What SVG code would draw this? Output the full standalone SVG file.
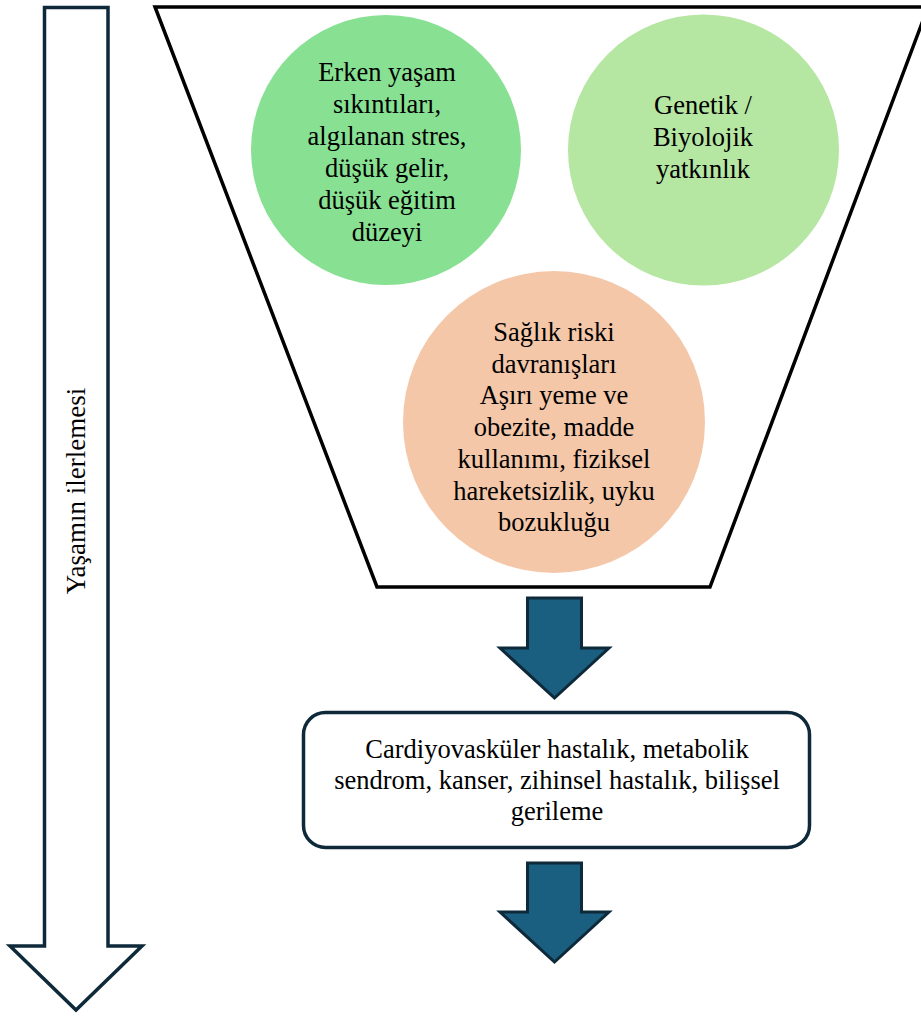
<svg xmlns="http://www.w3.org/2000/svg" width="921" height="1016" viewBox="0 0 921 1016">
<style>
.t{font-family:'Liberation Serif','Times New Roman',serif;font-size:26.5px;fill:#000;text-anchor:middle}
.blue{fill:#1A5E80;stroke:#0E2A3A;stroke-width:3;stroke-linejoin:miter}
</style>
<rect width="921" height="1016" fill="#fff"/>
<g id="progress-arrow">
<polygon points="44.5,7.5 108,7.5 108,946 142,946 76,1010 10,946 44.5,946" fill="#fff" stroke="#0E2A3A" stroke-width="3.5"/>
<text class="t" style="font-size:27px" transform="translate(85,491) rotate(-90)">Yaşamın ilerlemesi</text>
</g>
<g id="funnel">
<polygon points="155,7 928,7 710,587 377,587" fill="#fff" stroke="#000" stroke-width="3.5"/>
</g>
<g id="early-life">
<circle cx="386" cy="150" r="135" fill="#88E093"/>
<text class="t" x="387" y="81">Erken yaşam</text>
<text class="t" x="387" y="113">sıkıntıları,</text>
<text class="t" x="387" y="145">algılanan stres,</text>
<text class="t" x="387" y="177">düşük gelir,</text>
<text class="t" x="387" y="209">düşük eğitim</text>
<text class="t" x="387" y="241">düzeyi</text>
</g>
<g id="genetic">
<circle cx="703.5" cy="150" r="135.5" fill="#B5E6A2"/>
<text class="t" x="703" y="114">Genetik /</text>
<text class="t" x="703" y="146">Biyolojik</text>
<text class="t" x="703" y="178">yatkınlık</text>
</g>
<g id="behaviors">
<circle cx="554" cy="422" r="151" fill="#F5C7A9"/>
<text class="t" x="554" y="341">Sağlık riski</text>
<text class="t" x="554" y="373">davranışları</text>
<text class="t" x="554" y="404">Aşırı yeme ve</text>
<text class="t" x="554" y="436">obezite, madde</text>
<text class="t" x="554" y="468">kullanımı, fiziksel</text>
<text class="t" x="554" y="500">hareketsizlik, uyku</text>
<text class="t" x="554" y="531">bozukluğu</text>
</g>
<g id="outcomes">
<rect x="303.5" y="712.5" width="506" height="135" rx="22" fill="#fff" stroke="#0E2A3A" stroke-width="3.5"/>
<text class="t" x="557" y="758">Cardiyovasküler hastalık, metabolik</text>
<text class="t" x="557" y="789">sendrom, kanser, zihinsel hastalık, bilişsel</text>
<text class="t" x="557" y="820">gerileme</text>
</g>
<g id="connectors">
<polygon class="blue" points="527.5,598 581.5,598 581.5,648 609,648 554.5,698 500,648 527.5,648"/>
<polygon class="blue" points="527.5,863 581.5,863 581.5,912 609,912 554.5,962 500,912 527.5,912"/>
</g>
</svg>
